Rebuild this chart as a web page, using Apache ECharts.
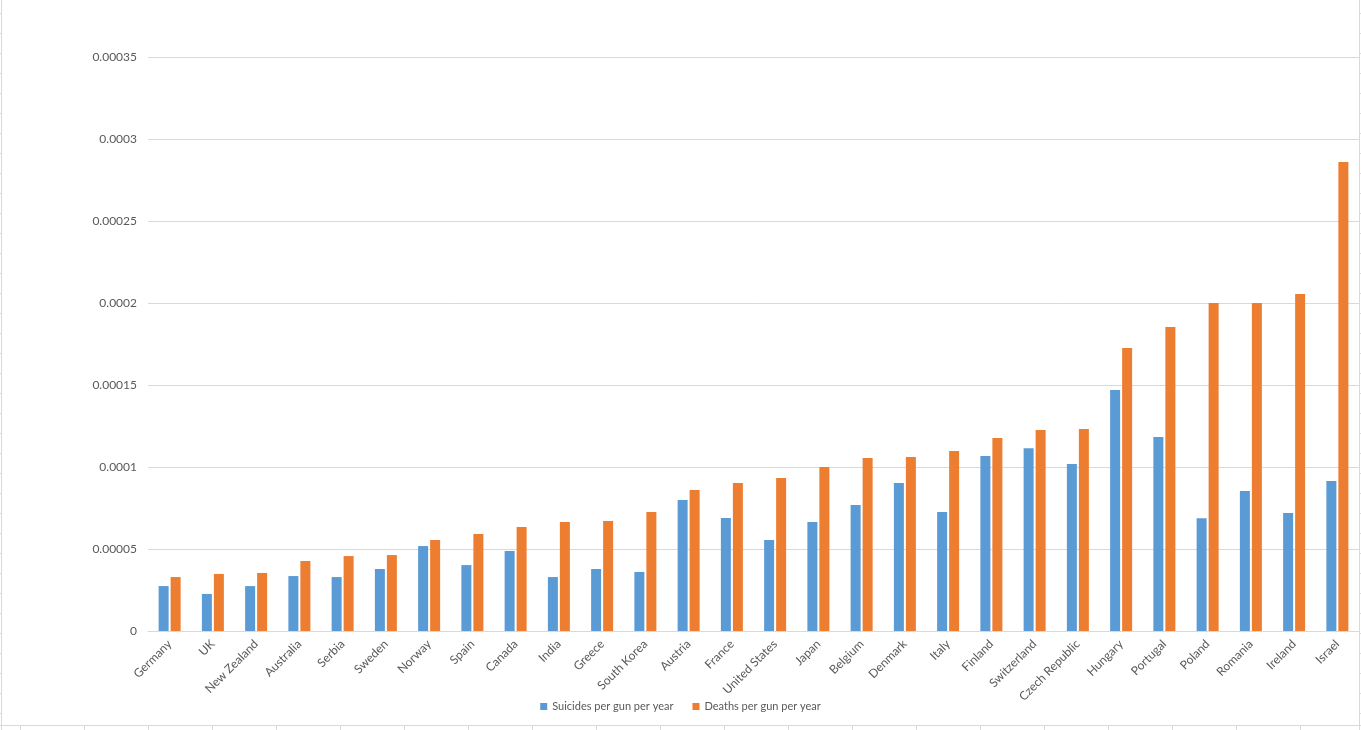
<!DOCTYPE html>
<html>
<head>
<meta charset="utf-8">
<script src="https://cdn.jsdelivr.net/npm/echarts@6/dist/echarts.min.js"></script>
<style>html,body{margin:0;padding:0;background:#fff}#c{width:1361px;height:730px}</style>
</head>
<body>
<div id="c"></div>
<script>
const categories = ["Germany","UK","New Zealand","Australia","Serbia","Sweden","Norway","Spain","Canada","India","Greece","South Korea","Austria","France","United States","Japan","Belgium","Denmark","Italy","Finland","Switzerland","Czech Republic","Hungary","Portugal","Poland","Romania","Ireland","Israel"];
const suicides = [0.0000274,0.0000226,0.0000274,0.0000335,0.0000329,0.0000378,0.0000518,0.0000402,0.0000488,0.0000329,0.0000378,0.000036,0.0000799,0.0000689,0.0000555,0.0000665,0.0000768,0.0000902,0.0000726,0.0001067,0.0001115,0.0001018,0.000147,0.0001183,0.0000688,0.0000853,0.000072,0.0000915];
const deaths = [0.0000329,0.0000348,0.0000354,0.0000427,0.0000457,0.0000463,0.0000555,0.0000591,0.0000634,0.0000665,0.0000671,0.0000726,0.000086,0.0000902,0.0000933,0.0001,0.0001055,0.0001061,0.0001098,0.0001177,0.0001225,0.0001232,0.0001725,0.0001853,0.0002,0.0002,0.0002055,0.000286];
const seriesNames = ["Suicides per gun per year","Deaths per gun per year"];
const yTicks = {min:0, max:0.00035, interval:0.00005};

const chart = echarts.init(document.getElementById('c'));
// spreadsheet cell borders (decorative)
const deco = [];
const lc = '#d9d9d9';
deco.push({type:'line',shape:{x1:1.5,y1:0,x2:1.5,y2:730},style:{stroke:lc,lineWidth:1}});
deco.push({type:'line',shape:{x1:1359.5,y1:0,x2:1359.5,y2:730},style:{stroke:lc,lineWidth:1}});
deco.push({type:'line',shape:{x1:0,y1:725.5,x2:1361,y2:725.5},style:{stroke:lc,lineWidth:1}});
for(let y=13; y<730; y+=20){
  deco.push({type:'line',shape:{x1:0,y1:y+0.5,x2:1.5,y2:y+0.5},style:{stroke:lc,lineWidth:1}});
  deco.push({type:'line',shape:{x1:1359.5,y1:y+0.5,x2:1361,y2:y+0.5},style:{stroke:lc,lineWidth:1}});
}
for(let x=20; x<1361; x+=64){
  deco.push({type:'line',shape:{x1:x+0.5,y1:725.5,x2:x+0.5,y2:730},style:{stroke:lc,lineWidth:1}});
}
chart.setOption({
  animation:false,
  backgroundColor:'#fff',
  textStyle:{fontFamily:'Lato'},
  graphic: deco,
  grid:{left:148,right:2,top:57,bottom:99,containLabel:false},
  legend:{
    data:seriesNames, left:'center', top:696, itemWidth:7, itemHeight:7, itemGap:19,
    icon:'rect', textStyle:{color:'#595959',fontSize:11,fontFamily:'Lato'}
  },
  xAxis:{
    type:'category', data:categories,
    axisLine:{lineStyle:{color:'#d9d9d9'}},
    axisTick:{show:false},
    axisLabel:{interval:0, rotate:45, color:'#595959', fontSize:12, margin:11, fontFamily:'Lato'}
  },
  yAxis:{
    type:'value', min:yTicks.min, max:yTicks.max, interval:yTicks.interval,
    axisLine:{show:false}, axisTick:{show:false},
    splitLine:{lineStyle:{color:'#d9d9d9'}},
    axisLabel:{color:'#595959', fontSize:12, margin:11, fontFamily:'Lato',
      formatter:v=> v===0 ? '0' : parseFloat(v.toFixed(6)).toString()}
  },
  series:[
    {name:seriesNames[0], type:'bar', data:suicides, barWidth:10, barGap:'20%', itemStyle:{color:'#5B9BD5'}},
    {name:seriesNames[1], type:'bar', data:deaths, barWidth:10, barGap:'20%', itemStyle:{color:'#ED7D31'}}
  ]
});
</script>
</body>
</html>
